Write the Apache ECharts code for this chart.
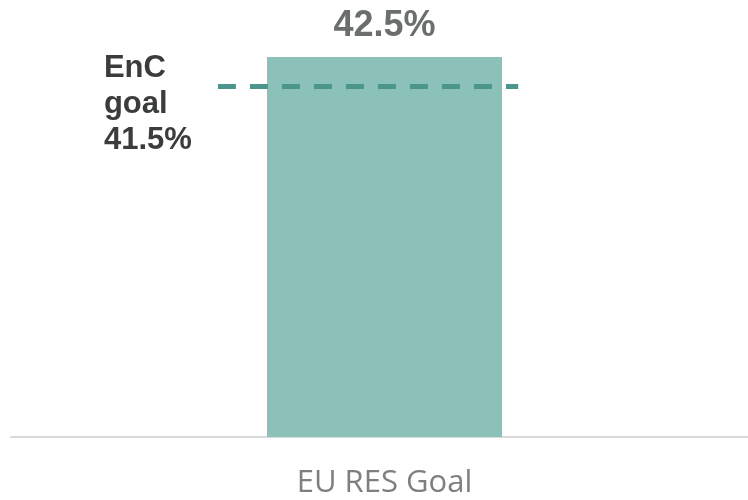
<!DOCTYPE html>
<html>
<head>
<meta charset="utf-8">
<script src="https://cdn.jsdelivr.net/npm/echarts@6/dist/echarts.min.js"></script>
<style>html,body{margin:0;padding:0;background:#fff;}#c{width:748px;height:500px;}</style>
</head>
<body>
<div id="c"></div>
<script>
// Data
var categories = ['EU RES Goal'];
var barValues = [42.5];
var goalValue = 41.5;
var goalLabelLines = ['EnC', 'goal'];

var chart = echarts.init(document.getElementById('c'), null, {renderer: 'canvas'});
var option = {
  animation: false,
  grid: {left: 11, right: -10, top: 57, bottom: 63, containLabel: false, outerBoundsMode: 'none'},
  xAxis: [
    {
      type: 'category',
      data: categories,
      axisLine: {lineStyle: {color: '#d9d9d9', width: 2}},
      axisTick: {show: false},
      axisLabel: {color: '#7f7f7f', fontFamily: 'Open Sans', fontSize: 31, margin: 31}
    },
    {type: 'value', min: 0, max: 1, show: false}
  ],
  yAxis: {
    type: 'value', min: 29.6, max: 42.5, show: false
  },
  series: [
    {
      type: 'bar',
      data: barValues,
      barWidth: 235,
      itemStyle: {color: '#8bc1b9'},
      label: {
        show: true, position: 'top', distance: 13,
        formatter: function (p) { return p.value.toFixed(1) + '%'; },
        color: '#6a6e6d', fontFamily: 'Liberation Sans', fontWeight: 'bold', fontSize: 36
      }
    },
    {
      type: 'line',
      xAxisIndex: 1,
      data: [[0.277, goalValue], [0.679, goalValue]],
      symbol: 'none',
      lineStyle: {color: '#4b968b', width: 5, type: [18, 14]},
      label: {show: false},
      silent: true
    },
    {
      type: 'scatter',
      xAxisIndex: 1,
      data: [[0.277, goalValue]],
      symbolSize: 0,
      itemStyle: {opacity: 1},
      label: {
        show: true,
        position: [-114, -36],
        align: 'left', verticalAlign: 'top',
        formatter: function (p) { return goalLabelLines.join('\n') + '\n' + p.value[1].toFixed(1) + '%'; },
        color: '#3a3d3c', fontFamily: 'Liberation Sans', fontWeight: 'bold', fontSize: 31, lineHeight: 36
      },
      silent: true
    }
  ]
};
chart.setOption(option);
</script>
</body>
</html>
